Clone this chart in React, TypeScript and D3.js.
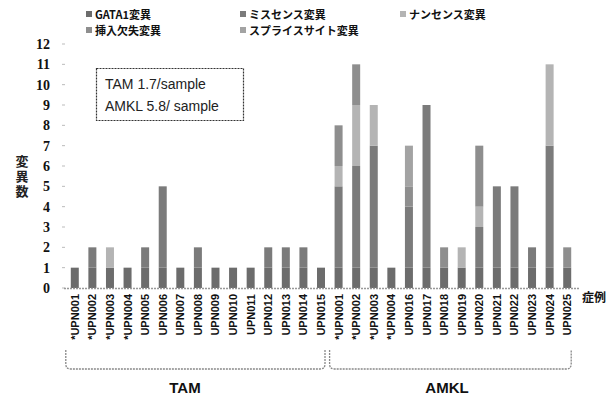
import React from "react";
import * as d3 from "d3";

const categories = [
  "*UPN001", "*UPN002", "*UPN003", "*UPN004", "UPN005", "UPN006", "UPN007", "UPN008",
  "UPN009", "UPN010", "UPN011", "UPN012", "UPN013", "UPN014", "UPN015",
  "*UPN001", "*UPN002", "*UPN003", "*UPN004", "UPN016", "UPN017", "UPN018", "UPN019",
  "UPN020", "UPN021", "UPN022", "UPN023", "UPN024", "UPN025",
];
const gata1 = [1,1,1,1,1,1,1,1,1,1,1,1,1,1,1, 1,1,1,1,1,1,1,1,1,1,1,1,1,1];
const missense = [0,1,0,0,1,4,0,1,0,0,0,1,1,1,0, 4,5,6,0,3,8,0,0,2,4,4,1,6,0];
const nonsense = [0,0,1,0,0,0,0,0,0,0,0,0,0,0,0, 1,3,2,0,0,0,0,1,1,0,0,0,4,0];
const indel = [0,0,0,0,0,0,0,0,0,0,0,0,0,0,0, 2,2,0,0,1,0,1,0,3,0,0,0,0,1];
const splice = [0,0,0,0,0,0,0,0,0,0,0,0,0,0,0, 0,0,0,0,2,0,0,0,0,0,0,0,0,0];
const seriesNames = ["GATA1変異", "ミスセンス変異", "ナンセンス変異", "挿入欠失変異", "スプライスサイト変異"];
const seriesColors = ["#6c6c6c", "#7b7b7b", "#b4b4b4", "#8e8e8e", "#a3a3a3"];
const yTicks = [0,1,2,3,4,5,6,7,8,9,10,11,12];
const yTitle = "変異数";
const groups = [
  { name: "TAM", from: 0, to: 14 },
  { name: "AMKL", from: 15, to: 28 },
];
const summaryLines = ["TAM 1.7/sample", "AMKL 5.8/ sample"];

export default function App() {
  const W = 616, H = 398;
  const idx = categories.map((_, i) => i);
  const x = d3.scaleBand<number>().domain(idx).range([66, 576]).paddingInner(0.545).paddingOuter(0.2725);
  const y = d3.scaleLinear().domain([0, 12]).range([288, 44]);
  const table = idx.map((i) => ({
    i,
    g: gata1[i], m: missense[i], n: nonsense[i], d: indel[i], s: splice[i],
  }));
  const keys = ["g", "m", "n", "d", "s"];
  const stacked = d3.stack<any>().keys(keys)(table);
  const bw = x.bandwidth();

  const legendPos = [
    { x: 86, y: 19 }, { x: 240, y: 19 }, { x: 400, y: 19 },
    { x: 86, y: 35 }, { x: 240, y: 35 },
  ];
  const legendOrder = [0, 1, 2, 3, 4];

  const bracket = (x0: number, x1: number, yTop: number, yBot: number) => {
    const r = 5;
    return `M${x0},${yTop} L${x0},${yBot - r} Q${x0},${yBot} ${x0 + r},${yBot} L${x1 - r},${yBot} Q${x1},${yBot} ${x1},${yBot - r} L${x1},${yTop}`;
  };

  return (
    <svg width={W} height={H} style={{ position: "absolute", left: 0, top: 0, background: "#fff" }}>
      {/* legend */}
      {legendOrder.map((k) => (
        <g key={k}>
          <rect x={legendPos[k].x} y={legendPos[k].y - 8} width={6} height={6} fill={seriesColors[k]} />
          <text x={legendPos[k].x + 9} y={legendPos[k].y} fontFamily="'Noto Sans CJK JP', sans-serif" fontWeight="bold" fontSize={11} fill="#111">
            {seriesNames[k]}
          </text>
        </g>
      ))}
      {/* y ticks */}
      {yTicks.map((t) => (
        <g key={t}>
          <text x={50} y={y(t) + 5} textAnchor="end" fontFamily="'Liberation Serif', serif" fontWeight="bold" fontSize={14} fill="#111">
            {t}
          </text>
          <line x1={62} x2={65} y1={y(t)} y2={y(t)} stroke="#bbb" strokeWidth={1} />
        </g>
      ))}
      {/* y title */}
      <text x={22} y={155} style={{ writingMode: "vertical-rl" as any }} fontFamily="'Noto Sans CJK JP', sans-serif" fontWeight="bold" fontSize={13} letterSpacing={2} fill="#222">
        {yTitle}
      </text>
      {/* summary box */}
      <rect x={96.5} y={68.5} width={147} height={52} fill="#fff" stroke="#333" strokeWidth={1.2} strokeDasharray="2,1" />
      {summaryLines.map((l, i) => (
        <text key={i} x={105} y={89 + i * 22} fontFamily="'Liberation Sans', Arial, sans-serif" fontSize={14} fill="#222">
          {l}
        </text>
      ))}
      {/* bars */}
      {stacked.map((layer, si) => (
        <g key={si} fill={seriesColors[si]}>
          {layer.map((d: any, j: number) =>
            d[1] - d[0] > 0 ? (
              <rect key={j} x={x(j)} y={y(d[1])} width={bw} height={y(d[0]) - y(d[1])} />
            ) : null
          )}
        </g>
      ))}
      {/* baseline */}
      <line x1={64} x2={580} y1={288.5} y2={288.5} stroke="#999" strokeWidth={1.5} strokeDasharray="2,1" />
      {/* category labels */}
      {categories.map((c, i) => {
        const cx = (x(i) as number) + bw / 2 + 4;
        return (
          <text key={i} transform={`translate(${cx},294) rotate(-90)`} textAnchor="end" fontFamily="'Liberation Sans', Arial, sans-serif" fontWeight="bold" fontSize={11} fill="#111">
            {c}
          </text>
        );
      })}
      <text x={582} y={302} fontFamily="'Noto Sans CJK JP', sans-serif" fontWeight="bold" fontSize={12} fill="#111">症例</text>
      {/* group brackets */}
      {groups.map((g) => {
        const x0 = (x(g.from) as number) - 5;
        const x1 = (x(g.to) as number) + bw;
        return (
          <g key={g.name}>
            <path d={bracket(x0, x1, 350, 369)} fill="none" stroke="#888" strokeWidth={1.3} strokeDasharray="2,1" />
            <text x={g.name === "TAM" ? 185 : 447} y={393} textAnchor="middle" fontFamily="'Liberation Sans', Arial, sans-serif" fontWeight="bold" fontSize={15} fill="#111">
              {g.name}
            </text>
          </g>
        );
      })}
    </svg>
  );
}
